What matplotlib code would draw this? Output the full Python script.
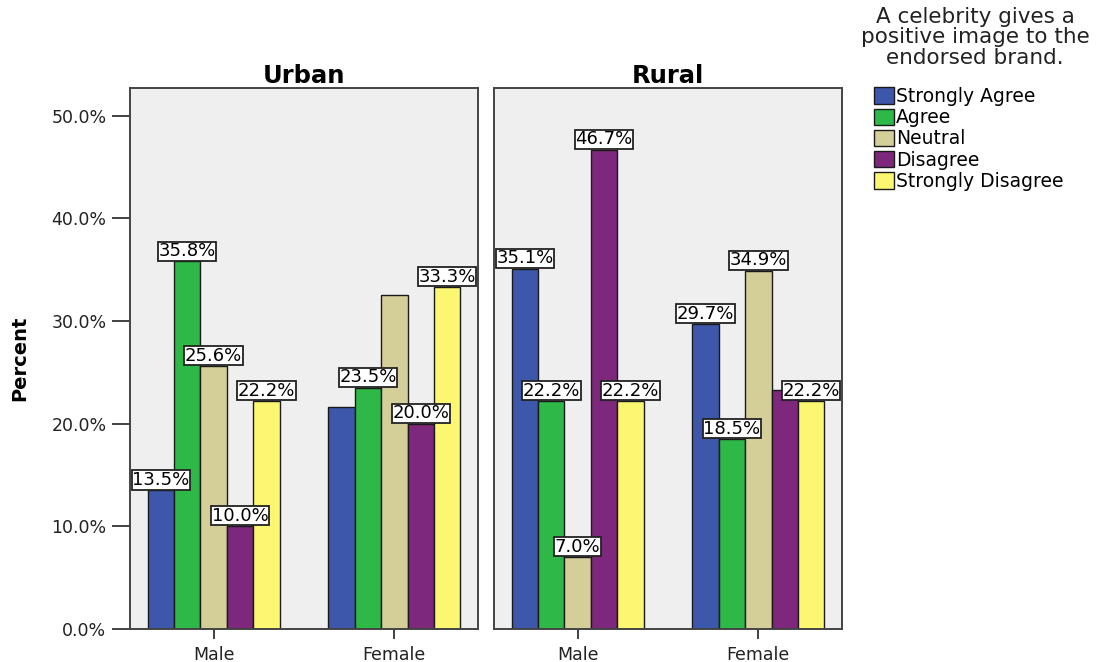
import numpy as np
import matplotlib
matplotlib.use("Agg")
import matplotlib.pyplot as plt

plt.rcParams['font.family'] = ['DejaVu Sans']

# data
areas = ["Urban", "Rural"]
genders = ["Male", "Female"]
responses = ["Strongly Agree", "Agree", "Neutral", "Disagree", "Strongly Disagree"]
colors = ["#3d57ab", "#2eb848", "#d4cf98", "#7d287c", "#fbf771"]

# percent per response, [male, female]
urban = [[13.5, 21.6], [35.8, 23.5], [25.6, 32.5], [10.0, 20.0], [22.2, 33.3]]
rural = [[35.1, 29.7], [22.2, 18.5], [7.0, 34.9], [46.7, 23.3], [22.2, 22.2]]
# which bars carry a value label (SPSS dropped a few)
urban_show = [[True, False], [True, True], [True, False], [True, True], [True, True]]
rural_show = [[True, True], [True, True], [True, True], [True, False], [True, True]]

fig = plt.figure(figsize=(10.97, 6.62), dpi=100)
W, H = 1097, 662
panels = [(130, urban, urban_show), (494, rural, rural_show)]

x = np.arange(len(genders))
bw = 0.146
axes = []
for k, (left, data, show) in enumerate(panels):
    ax = fig.add_axes([left / W, 1 - 629 / H, 348 / W, 541 / H])
    ax.set_facecolor("#efefef")
    for i, resp in enumerate(responses):
        xs = x + (i - 2) * bw
        bars = ax.bar(xs, data[i], width=bw, color=colors[i], edgecolor="#1a1a1a",
                      linewidth=1.0, label=resp, zorder=2)
        for j, b in enumerate(bars):
            if not show[i][j]:
                continue
            ax.annotate(f"{data[i][j]:.1f}%", (b.get_x() + bw / 2, data[i][j]),
                        xytext=(0, 1.0), textcoords="offset points",
                        ha="center", va="bottom", fontsize=13, zorder=5,
                        bbox=dict(boxstyle="square,pad=0.03", fc="white",
                                  ec="#222222", lw=1.3))
    ax.set_xlim(-0.463, 1.463)
    ax.set_ylim(0, 52.7)
    ax.set_xticks(x)
    ax.set_xticklabels(genders, fontsize=12.5, color="#222222")
    ax.tick_params(axis="x", length=7, width=1.3, color="#333333", pad=5)
    for s in ax.spines.values():
        s.set_color("#444444")
        s.set_linewidth(1.4)
    ax.set_title(areas[k], fontsize=17.5, fontweight="bold", pad=3)
    if k == 0:
        ax.set_yticks(np.arange(0, 51, 10))
        ax.set_yticklabels([f"{v:.1f}%" for v in np.arange(0, 51, 10)], fontsize=12.5,
                           color="#222222")
        ax.tick_params(axis="y", length=13, width=1.3, color="#333333", pad=4)
        ax.set_ylabel("Percent", fontsize=14, fontweight="bold")
        ax.yaxis.set_label_coords(-0.29, 0.5)
    else:
        ax.set_yticks([])
    axes.append(ax)

fig.text(975 / W, 1 - 7 / H, "A celebrity gives a\npositive image to the\nendorsed brand.",
         ha="center", va="top", fontsize=15.5, linespacing=1.02, color="#222222")
handles, labels = axes[0].get_legend_handles_labels()
leg = fig.legend(handles, labels, loc="upper left", bbox_to_anchor=(874 / W, 1 - 87 / H),
                 frameon=False, fontsize=13.5, handlelength=1.05, handleheight=0.95,
                 handletextpad=0.12, labelspacing=0.12, borderaxespad=0, borderpad=0)

fig.savefig("out.png", dpi=100)
